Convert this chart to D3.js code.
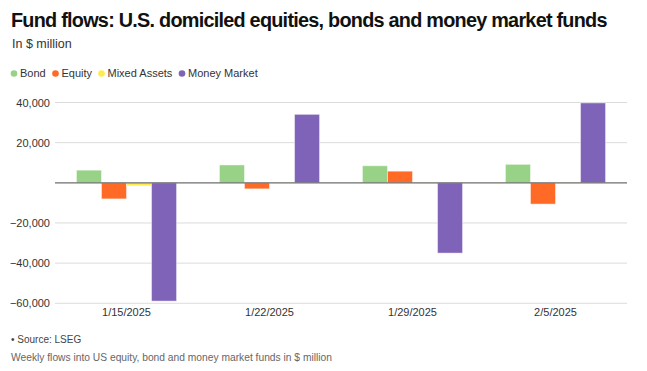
<!DOCTYPE html>
<html>
<head>
<meta charset="utf-8">
<script src="https://cdn.jsdelivr.net/npm/d3@7"></script>
<style>
  html, body { margin: 0; padding: 0; background: #fff; }
  svg { display: block; font-family: "Liberation Sans", Arial, Helvetica, sans-serif; }
</style>
</head>
<body>
<svg id="chart" width="647" height="371"></svg>
<script>
const categories = ["1/15/2025", "1/22/2025", "1/29/2025", "2/5/2025"];
const seriesNames = ["Bond", "Equity", "Mixed Assets", "Money Market"];
const bondValues = [6300, 8900, 8500, 9200];
const equityValues = [-8000, -3000, 5800, -10600];
const mixedValues = [-1500, -150, -300, -300];
const moneyValues = [-58900, 34100, -35000, 39800];
const yTicks = [-60000, -40000, -20000, 20000, 40000];
const colors = ["#97d287", "#ff6b27", "#ffec4a", "#7f63b8"];

const seriesValues = [bondValues, equityValues, mixedValues, moneyValues];
const svg = d3.select("#chart");

// Fit text by shrinking the font size (no glyph squashing)
function fitFont(sel, width, size) {
  sel.attr("font-size", size);
  const w = sel.node().getComputedTextLength();
  if (w > width) sel.attr("font-size", size * width / w);
}
const title = svg.append("text").attr("x", 11).attr("y", 27)
  .attr("font-weight", "bold").attr("fill", "#111").attr("letter-spacing", -0.75)
  .text("Fund flows: U.S. domiciled equities, bonds and money market funds");
fitFont(title, 602, 22.5);

svg.append("text").attr("x", 12).attr("y", 47.5).attr("font-size", 12.5).attr("fill", "#333")
  .text("In $ million");

// Legend
const legendX = [14, 55.5, 101.5, 182];
const lg = svg.append("g");
seriesNames.forEach((n, i) => {
  lg.append("circle").attr("cx", legendX[i]).attr("cy", 73.5).attr("r", 3.3).attr("fill", colors[i]);
  lg.append("text").attr("x", legendX[i] + 6).attr("y", 77.3).attr("font-size", 11)
    .attr("fill", "#333").text(n);
});

// Scales
const x0 = d3.scaleBand().domain(categories).range([55, 627]).paddingInner(0.3).paddingOuter(0.15);
const x1 = d3.scaleBand().domain(seriesNames).range([0, x0.bandwidth()]);
const y = d3.scaleLinear().domain([-60000, 40000]).range([303.3, 102.5]);

// Grid
const grid = svg.append("g");
yTicks.forEach(t => {
  grid.append("line").attr("x1", 55).attr("x2", 627).attr("y1", y(t)).attr("y2", y(t))
    .attr("stroke", "#dcdcdc").attr("stroke-width", 1);
});

// Y axis labels
const yAxis = svg.append("g").attr("transform", "translate(55,0)")
  .call(d3.axisLeft(y).tickValues(yTicks).tickSize(0).tickPadding(5)
    .tickFormat(d => d3.format(",")(d).replace("-", "\u2212")));
yAxis.select(".domain").remove();
yAxis.selectAll("text").attr("font-size", 11).attr("fill", "#333")
  .attr("font-family", "Liberation Sans, Arial, sans-serif");

// Bars
const groups = svg.append("g").selectAll("g").data(categories).join("g")
  .attr("transform", d => `translate(${x0(d)},0)`);
groups.selectAll("rect")
  .data((d, ci) => seriesNames.map((s, si) => ({ s, si, v: seriesValues[si][ci] })))
  .join("rect")
  .attr("x", d => x1(d.s))
  .attr("width", x1.bandwidth())
  .attr("y", d => y(Math.max(0, d.v)))
  .attr("height", d => Math.abs(y(d.v) - y(0)))
  .attr("fill", d => colors[d.si])
  .attr("stroke", "rgba(255,255,255,0.45)")
  .attr("stroke-width", 1);

// Zero line
svg.append("line").attr("x1", 55).attr("x2", 627).attr("y1", y(0)).attr("y2", y(0))
  .attr("stroke", "#6e6e6e").attr("stroke-width", 1.2);

// X axis labels
const xAxis = svg.append("g").attr("transform", "translate(0,303)")
  .call(d3.axisBottom(x0).tickSize(0).tickPadding(5));
xAxis.select(".domain").remove();
xAxis.selectAll("text").attr("font-size", 11).attr("fill", "#333")
  .attr("font-family", "Liberation Sans, Arial, sans-serif");

// Footer
svg.append("text").attr("x", 11).attr("y", 342.5).attr("font-size", 10).attr("fill", "#444")
  .text("\u2022 Source: LSEG");
const foot = svg.append("text").attr("x", 11).attr("y", 361).attr("fill", "#666")
  .text("Weekly flows into US equity, bond and money market funds in $ million");
fitFont(foot, 321, 11);
</script>
</body>
</html>
